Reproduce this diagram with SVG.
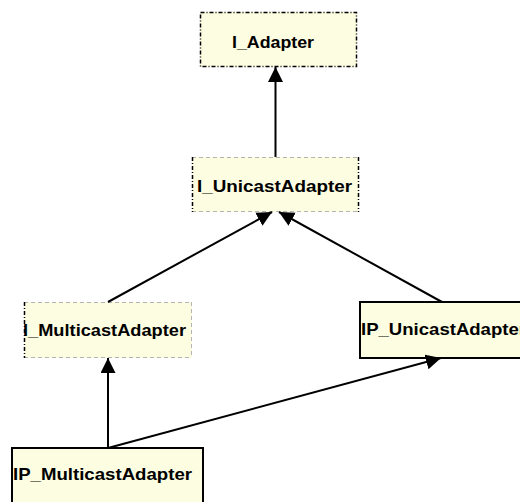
<svg xmlns="http://www.w3.org/2000/svg" width="520" height="502" viewBox="0 0 520 502">
  <style>
    .fill { fill: #fdfde1; stroke: none; }
    .solid { fill: #fdfde1; stroke: #000; stroke-width: 2; }
    .dash-dark { stroke: #000; stroke-width: 1.5; stroke-dasharray: 4 2 1 2; fill: none; }
    .dash-light { stroke: #b4b4b4; stroke-width: 1; stroke-dasharray: 4 3; fill: none; }
    .label { font-family: "Liberation Sans", Arial, sans-serif; font-weight: bold; font-size: 17px; fill: #000; }
    .edge { stroke: #000; stroke-width: 2; fill: none; marker-end: url(#head); }
  </style>
  <defs>
    <marker id="head" markerUnits="userSpaceOnUse" markerWidth="16" markerHeight="16" refX="15" refY="7.5" orient="auto">
      <path d="M0,0 L15,7.5 L0,15 z" fill="#000"/>
    </marker>
    <clipPath id="clip-imulticast">
      <rect x="24" y="302" width="168" height="56"/>
    </clipPath>
  </defs>

  <!-- interface I_Adapter -->
  <g id="I_Adapter">
    <rect class="fill" x="200" y="12" width="157" height="55"/>
    <rect class="dash-dark" x="200.5" y="12.5" width="156" height="54"/>
    <text class="label" x="232" y="48" textLength="82" lengthAdjust="spacingAndGlyphs">I_Adapter</text>
  </g>

  <!-- interface I_UnicastAdapter -->
  <g id="I_UnicastAdapter">
    <rect class="fill" x="192" y="157" width="167" height="55"/>
    <line class="dash-light" x1="192" y1="157.5" x2="359" y2="157.5"/>
    <line class="dash-light" x1="192" y1="211.5" x2="359" y2="211.5"/>
    <line class="dash-dark" x1="192.5" y1="157" x2="192.5" y2="212"/>
    <line class="dash-dark" x1="358.5" y1="157" x2="358.5" y2="212"/>
    <text class="label" x="197" y="192" textLength="155" lengthAdjust="spacingAndGlyphs">I_UnicastAdapter</text>
  </g>

  <!-- interface I_MulticastAdapter -->
  <g id="I_MulticastAdapter">
    <rect class="fill" x="24" y="302" width="168" height="56"/>
    <line class="dash-light" x1="24" y1="302.5" x2="192" y2="302.5"/>
    <line class="dash-light" x1="24" y1="357.5" x2="192" y2="357.5"/>
    <line class="dash-light" x1="191.5" y1="302" x2="191.5" y2="358"/>
    <line class="dash-dark" x1="24.5" y1="302" x2="24.5" y2="358"/>
    <text class="label" x="23" y="336" textLength="163" lengthAdjust="spacingAndGlyphs" clip-path="url(#clip-imulticast)">I_MulticastAdapter</text>
  </g>

  <!-- class IP_UnicastAdapter -->
  <g id="IP_UnicastAdapter">
    <rect class="solid" x="360" y="302" width="170" height="56"/>
    <text class="label" x="361" y="335" textLength="165" lengthAdjust="spacingAndGlyphs">IP_UnicastAdapter</text>
  </g>

  <!-- class IP_MulticastAdapter -->
  <g id="IP_MulticastAdapter">
    <rect class="solid" x="12" y="448" width="191" height="70"/>
    <text class="label" x="13" y="480" textLength="179" lengthAdjust="spacingAndGlyphs">IP_MulticastAdapter</text>
  </g>

  <!-- generalization / realization connectors -->
  <g id="connectors">
    <path class="edge" d="M275.5,157 L275.5,67"/>
    <path class="edge" d="M108,302 L272,212"/>
    <path class="edge" d="M442,302 L279,212"/>
    <path class="edge" d="M108,448 L108,358"/>
    <path class="edge" d="M108,448 L441,358"/>
  </g>
</svg>
